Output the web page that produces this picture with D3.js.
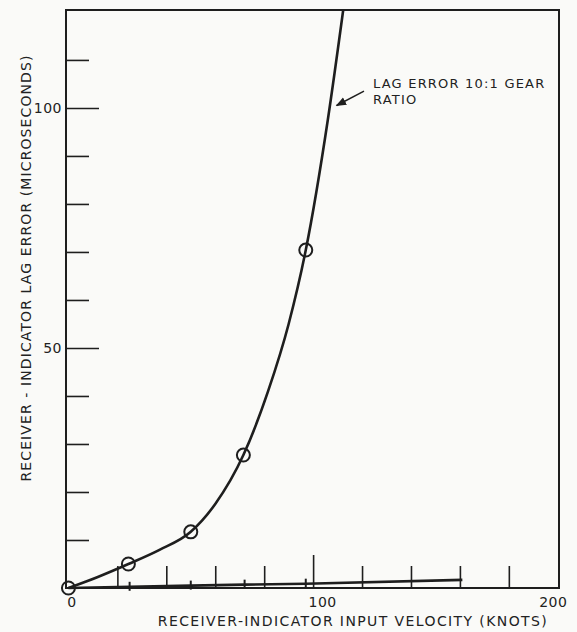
<!DOCTYPE html>
<html>
<head>
<meta charset="utf-8">
<script src="https://cdn.jsdelivr.net/npm/d3@7"></script>
<style>
  html, body { margin: 0; padding: 0; background: #fafaf8; }
  svg { display: block; }
  text { font-family: "DejaVu Sans", sans-serif; fill: #222; }
</style>
</head>
<body>
<svg id="chart" width="577" height="632"></svg>
<script>
// Lag error vs input velocity — hand-drawn style chart
// ------------------------------------------------------------------

// Data ------------------------------------------------------------
// measured points (circles) on the 10:1 gear ratio curve
const gearVelocity = [0, 24.5, 50, 71.5, 97];
const gearLag      = [0, 5, 11.7, 27.7, 70.4];

// smooth curve drawn through the points
const curveVelocity = [0, 12, 24.5, 37, 50, 60, 71.5, 81.6, 90, 97, 106, 112.3];
const curveLag      = [0, 2.3, 5, 7.9, 11.7, 17.5, 27.7, 41, 55, 70.4, 97.5, 120.4];

// near-flat second series (plus marks)
const flatVelocity = [0, 25, 50, 72, 97, 161];
const flatLag      = [0, 0.25, 0.5, 0.7, 0.9, 1.7];
const flatMarked   = [25, 50, 72, 97];

// ticks
const xMinorTicks = [20, 40, 60, 80, 120, 140, 160, 180];
const xMajorTicks = [100];
const xTickLabels = [0, 100, 200];
const yMinorTicks = [10, 20, 30, 40, 60, 70, 80, 90, 110];
const yMajorTicks = [50, 100];
const yTickLabels = [50, 100];

const xTitle = "RECEIVER-INDICATOR INPUT VELOCITY (KNOTS)";
const yTitle = "RECEIVER - INDICATOR LAG ERROR (MICROSECONDS)";
const noteLines = ["LAG ERROR 10:1 GEAR", "RATIO"];

// Layout ----------------------------------------------------------
const ink = "#1e1e1e";
const svg = d3.select("#chart");

const x = d3.scaleLinear().domain([-1, 200.5]).range([66, 559]);
const y = d3.scaleLinear().domain([0, 120.4]).range([588, 10]);

const [x0, x1] = x.range();
const [y0, y1] = y.range();

// Frame -----------------------------------------------------------
svg.append("rect")
  .attr("x", x0).attr("y", y1)
  .attr("width", x1 - x0).attr("height", y0 - y1)
  .attr("fill", "none")
  .attr("stroke", ink)
  .attr("stroke-width", 2);

// Axes (ticks point inward) ---------------------------------------
function styleAxis(g) {
  g.select(".domain").remove();
  g.selectAll(".tick line").attr("stroke", ink).attr("stroke-width", 1.6);
  g.selectAll(".tick text")
    .style("font-family", "DejaVu Sans, sans-serif")
    .style("font-size", "14px")
    .style("letter-spacing", "0.5px")
    .attr("fill", ink);
}

svg.append("g").attr("transform", `translate(0,${y0})`)
  .call(d3.axisTop(x).tickValues(xMinorTicks).tickSize(22).tickFormat(""))
  .call(styleAxis);
svg.append("g").attr("transform", `translate(0,${y0})`)
  .call(d3.axisTop(x).tickValues(xMajorTicks).tickSize(33).tickFormat(""))
  .call(styleAxis);
svg.append("g").attr("transform", `translate(0,${y0})`)
  .call(d3.axisBottom(x).tickValues(xTickLabels).tickSize(0).tickPadding(9).tickFormat(d3.format("d")))
  .call(styleAxis)
  .selectAll(".tick text").attr("dx", d => d === 0 ? 3 : (d === 100 ? 9 : -5));

svg.append("g").attr("transform", `translate(${x0},0)`)
  .call(d3.axisRight(y).tickValues(yMinorTicks).tickSize(23).tickFormat(""))
  .call(styleAxis);
svg.append("g").attr("transform", `translate(${x0},0)`)
  .call(d3.axisRight(y).tickValues(yMajorTicks).tickSize(33).tickFormat(""))
  .call(styleAxis);
svg.append("g").attr("transform", `translate(${x0},0)`)
  .call(d3.axisLeft(y).tickValues(yTickLabels).tickSize(0).tickPadding(4).tickFormat(d3.format("d")))
  .call(styleAxis);

// Axis titles -----------------------------------------------------
svg.append("text")
  .attr("x", 353).attr("y", 626)
  .attr("text-anchor", "middle")
  .style("font-size", "14px")
  .style("letter-spacing", "1.4px")
  .text(xTitle);

svg.append("text")
  .attr("transform", "translate(31,268) rotate(-90)")
  .attr("text-anchor", "middle")
  .style("font-size", "14px")
  .style("letter-spacing", "1.1px")
  .text(yTitle);

// Lines -----------------------------------------------------------
const line = d3.line()
  .x(d => x(d[0]))
  .y(d => y(d[1]))
  .curve(d3.curveMonotoneX);

svg.append("clipPath").attr("id", "plot-clip")
  .append("rect")
  .attr("x", x0).attr("y", y1)
  .attr("width", x1 - x0).attr("height", y0 - y1);

svg.append("path")
  .datum(d3.zip(curveVelocity, curveLag))
  .attr("clip-path", "url(#plot-clip)")
  .attr("fill", "none")
  .attr("stroke", ink)
  .attr("stroke-width", 2.6)
  .attr("d", line);

svg.append("path")
  .datum(d3.zip(flatVelocity, flatLag))
  .attr("fill", "none")
  .attr("stroke", ink)
  .attr("stroke-width", 2.6)
  .attr("d", d3.line().x(d => x(d[0])).y(d => y(d[1])));

// Plus marks on the flat series
const flatY = d3.scaleLinear().domain(flatVelocity).range(flatLag);
svg.append("g").selectAll("line")
  .data(flatMarked)
  .join("line")
  .attr("x1", d => x(d)).attr("x2", d => x(d))
  .attr("y1", d => y(flatY(d)) - 5)
  .attr("y2", d => y(flatY(d)) + 4)
  .attr("stroke", ink)
  .attr("stroke-width", 2);

// Circles on the gear ratio curve
svg.append("g").selectAll("circle")
  .data(d3.zip(gearVelocity, gearLag))
  .join("circle")
  .attr("cx", d => x(d[0]))
  .attr("cy", d => y(d[1]))
  .attr("r", 6.5)
  .attr("fill", "none")
  .attr("stroke", ink)
  .attr("stroke-width", 2);

// Annotation ------------------------------------------------------
svg.append("text")
  .attr("x", 373).attr("y", 88)
  .style("font-size", "13px")
  .style("letter-spacing", "1.2px")
  .selectAll("tspan")
  .data(noteLines)
  .join("tspan")
  .attr("x", 373)
  .attr("dy", (d, i) => i ? 16 : 0)
  .text(d => d);

const arrowTail = [120.8, 103.5];
const arrowHead = [109.6, 100.5];
svg.append("defs").append("marker")
  .attr("id", "arrow")
  .attr("viewBox", "0 0 10 10")
  .attr("refX", 9).attr("refY", 5)
  .attr("markerWidth", 7).attr("markerHeight", 7)
  .attr("orient", "auto")
  .append("path")
  .attr("d", "M0,1 L10,5 L0,9 Z")
  .attr("fill", ink);

svg.append("line")
  .attr("x1", x(arrowTail[0])).attr("y1", y(arrowTail[1]))
  .attr("x2", x(arrowHead[0])).attr("y2", y(arrowHead[1]))
  .attr("stroke", ink)
  .attr("stroke-width", 1.5)
  .attr("marker-end", "url(#arrow)");
</script>
</body>
</html>
